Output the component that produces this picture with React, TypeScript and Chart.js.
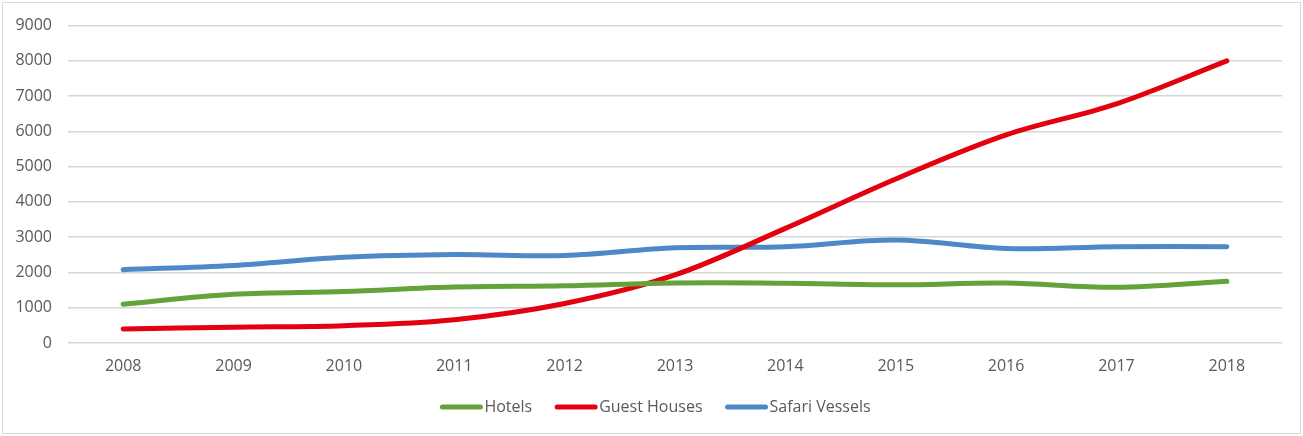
import React, { useEffect, useRef } from "react";
import { Chart, registerables } from "chart.js";

Chart.register(...registerables);

const years = ["2008", "2009", "2010", "2011", "2012", "2013", "2014", "2015", "2016", "2017", "2018"];
const hotels = [1100, 1380, 1460, 1585, 1620, 1700, 1695, 1650, 1700, 1580, 1750];
const guestHouses = [400, 450, 490, 660, 1120, 1930, 3250, 4650, 5900, 6780, 8000];
const safariVessels = [2080, 2200, 2430, 2510, 2480, 2700, 2730, 2920, 2680, 2730, 2730];

const FONT = "'Open Sans', 'Liberation Sans', sans-serif";
const TEXT = "#595959";

const bottomLegend = {
  id: "bottomLegend",
  afterDraw(chart: any) {
    const ctx = chart.ctx as CanvasRenderingContext2D;
    const sets = chart.data.datasets;
    const lineW = 42;
    const gapText = 2;
    const gapItem = 23;
    ctx.save();
    ctx.font = `16px ${FONT}`;
    const widths = sets.map((d: any) => lineW + gapText + ctx.measureText(d.label).width);
    const total = widths.reduce((a: number, b: number) => a + b, 0) + gapItem * (sets.length - 1);
    let x = chart.width / 2 - total / 2 + 4;
    const y = chart.chartArea.bottom + 64;
    sets.forEach((d: any, i: number) => {
      ctx.strokeStyle = d.borderColor;
      ctx.lineWidth = 5;
      ctx.lineCap = "round";
      ctx.beginPath();
      ctx.moveTo(x + 2, y);
      ctx.lineTo(x + lineW - 2, y);
      ctx.stroke();
      ctx.fillStyle = TEXT;
      ctx.textBaseline = "middle";
      ctx.textAlign = "left";
      ctx.fillText(d.label, x + lineW + gapText, y);
      x += widths[i] + gapItem;
    });
    ctx.restore();
  },
};

export default function App() {
  const ref = useRef<HTMLCanvasElement | null>(null);

  useEffect(() => {
    document.body.style.margin = "0";
    if (!ref.current) return;
    const mk = (label: string, data: number[], color: string) => ({
      label,
      data,
      borderColor: color,
      backgroundColor: color,
      borderWidth: 5,
      pointRadius: 0,
      tension: 0.35,
      borderCapStyle: "round" as const,
      borderJoinStyle: "round" as const,
      fill: false,
    });
    const chart = new Chart(ref.current, {
      type: "line",
      data: {
        labels: years,
        datasets: [
          mk("Hotels", hotels, "#64a23c"),
          mk("Guest Houses", guestHouses, "#e3000f"),
          mk("Safari Vessels", safariVessels, "#4f88c6"),
        ],
      },
      plugins: [bottomLegend],
      options: {
        animation: false,
        responsive: false,
        maintainAspectRatio: false,
        layout: { padding: { top: 16, right: 21, bottom: 59, left: 0 } },
        plugins: {
          tooltip: { enabled: false },
          legend: { display: false },
        },
        scales: {
          x: {
            offset: true,
            grid: { display: false, drawTicks: false },
            border: { display: false },
            ticks: { color: TEXT, font: { family: FONT, size: 16 }, padding: 14, maxRotation: 0 },
            afterFit: (s: any) => {
              s.height = 34;
            },
          },
          y: {
            min: 0,
            max: 9000,
            grid: { color: "#d6d6d6", lineWidth: 1.5, drawTicks: false },
            border: { display: false },
            ticks: {
              stepSize: 1000,
              color: TEXT,
              font: { family: FONT, size: 16 },
              padding: 16,
              callback: (v: any) => String(v),
            },
            afterFit: (s: any) => {
              s.width = 68;
            },
          },
        },
      },
    });
    return () => chart.destroy();
  }, []);

  return (
    <div style={{ position: "relative", width: 1303, height: 436, background: "#fff" }}>
      <div
        style={{
          position: "absolute",
          left: 2,
          top: 2,
          width: 1297,
          height: 430,
          border: "1px solid #d9d9d9",
        }}
      />
      <canvas ref={ref} width={1303} height={436} style={{ position: "absolute", left: 0, top: 0 }} />
    </div>
  );
}
